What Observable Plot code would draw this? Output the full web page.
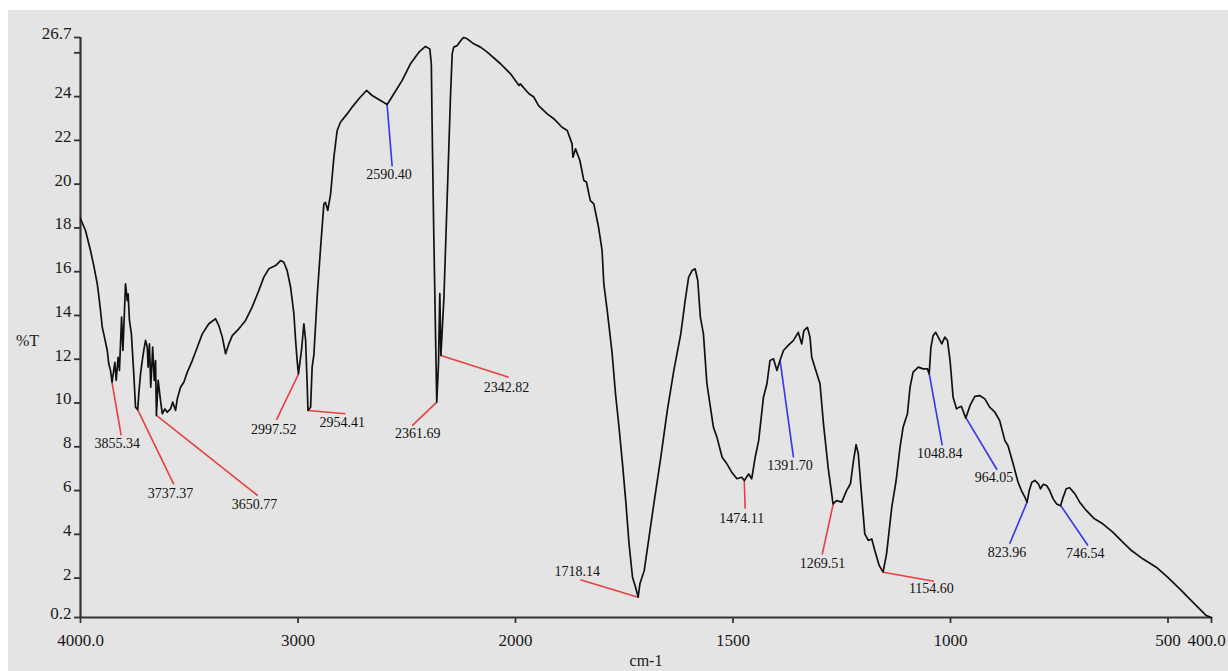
<!DOCTYPE html>
<html>
<head>
<meta charset="utf-8">
<script src="https://cdn.jsdelivr.net/npm/d3@7"></script>
<script src="https://cdn.jsdelivr.net/npm/@observablehq/plot@0.6"></script>
<style>
  html, body { margin: 0; padding: 0; background: #ffffff; width: 1228px; height: 671px; overflow: hidden; }
  #chart { position: absolute; left: 8px; top: 10px; width: 1220px; height: 661px; background: #e4e4e4; }
</style>
</head>
<body>
<div id="chart"></div>
<script>
// Spectrum: wavenumber (cm-1) and transmittance (%T)
const wavenumber = [4000,3977,3954,3939,3923,3916,3908,3900,3893,3877,3870,3862,3855,3842,3836,3827,3821,3811,3805,3793,3785,3781,3775,3766,3755,3747,3737,3732,3724,3716,3709,3701,3693,3689,3683,3677,3668,3661,3655,3651,3643,3632,3624,3612,3601,3586,3576,3563,3555,3540,3525,3509,3486,3463,3440,3410,3379,3364,3348,3333,3318,3302,3272,3241,3211,3180,3157,3134,3103,3080,3065,3050,3034,3019,3011,3004,2998,2984,2973,2965,2958,2954,2942,2935,2927,2912,2896,2881,2874,2863,2850,2835,2820,2805,2774,2751,2720,2685,2659,2621,2590,2559,2521,2483,2444,2414,2394,2387,2383,2376,2368,2362,2354,2348,2343,2329,2314,2299,2291,2284,2268,2245,2238,2222,2192,2161,2130,2069,2023,1992,1989,1969,1958,1947,1927,1912,1893,1881,1870,1868,1862,1852,1843,1837,1828,1820,1809,1801,1797,1789,1778,1770,1762,1754,1746,1739,1731,1724,1718,1714,1704,1693,1682,1666,1651,1636,1620,1610,1602,1594,1587,1581,1575,1568,1560,1545,1537,1525,1514,1503,1491,1480,1474,1464,1457,1449,1441,1430,1422,1415,1407,1399,1392,1384,1373,1361,1350,1342,1337,1329,1323,1319,1307,1300,1292,1281,1270,1262,1250,1239,1230,1223,1217,1212,1204,1197,1189,1181,1174,1164,1155,1147,1135,1125,1116,1109,1099,1093,1086,1074,1063,1053,1049,1045,1040,1034,1026,1020,1013,1007,1001,994,986,980,975,965,955,944,933,921,910,898,887,875,868,856,845,837,829,824,819,813,806,798,793,787,779,772,764,756,747,741,734,726,714,703,688,669,650,627,604,584,558,527,501,473,443,412,400];
const transmittance = [18.42,17.88,16.97,16.28,15.45,14.91,14.23,13.46,13.16,12.40,11.79,11.49,10.95,11.86,11.03,12.09,11.49,13.92,12.40,15.45,14.68,14.99,13.77,13.16,11.33,9.81,9.70,10.42,11.33,11.94,12.40,12.86,12.55,11.64,12.70,10.72,12.55,11.03,11.94,9.43,11.03,10.11,9.51,9.73,9.58,9.73,10.04,9.66,10.19,10.72,10.95,11.41,11.94,12.55,13.16,13.62,13.85,13.54,13.01,12.25,12.70,13.08,13.39,13.77,14.38,15.14,15.75,16.13,16.28,16.51,16.43,16.05,15.29,14.08,12.86,11.94,11.33,12.40,13.62,12.86,10.88,9.66,9.81,11.64,12.20,14.83,17.12,19.10,19.17,18.80,19.56,21.23,22.45,22.83,23.21,23.52,23.90,24.28,24.05,23.82,23.64,24.13,24.74,25.50,26.03,26.29,26.18,25.50,22.45,17.88,13.31,10.04,11.79,15.00,12.17,14.83,19.40,23.97,25.96,26.26,26.33,26.64,26.70,26.64,26.41,26.26,26.03,25.50,25.04,24.51,24.58,24.13,23.98,23.59,23.21,22.99,22.60,22.45,21.84,21.23,21.61,21.08,20.17,20.10,19.25,19.10,18.03,16.97,15.45,14.20,12.30,10.40,8.89,7.22,5.39,3.57,2.04,1.58,1.13,1.74,2.35,3.87,5.39,7.52,9.66,11.49,13.16,14.68,15.75,16.05,16.13,15.60,13.92,13.16,10.88,8.89,8.44,7.52,7.22,6.84,6.54,6.61,6.46,6.76,6.54,7.52,8.28,10.26,10.88,11.94,12.02,11.49,11.94,12.40,12.63,12.86,13.23,12.70,13.31,13.46,13.01,12.09,11.33,10.88,9.05,7.00,5.39,5.54,5.47,6.00,6.31,7.37,8.10,7.68,5.70,4.02,3.72,3.79,3.26,2.58,2.27,3.11,5.24,6.46,7.98,8.89,9.51,10.72,11.41,11.64,11.56,11.56,11.33,12.55,13.08,13.23,12.93,12.70,13.01,12.86,11.94,10.26,9.73,9.81,9.85,9.31,9.89,10.30,10.34,10.19,9.81,9.58,9.20,8.28,8.06,7.22,6.40,6.00,5.70,5.47,6.00,6.38,6.46,6.31,6.08,6.28,6.23,6.00,5.62,5.39,5.31,5.70,6.08,6.13,5.85,5.47,5.09,4.71,4.48,4.10,3.64,3.26,2.88,2.50,2.04,1.51,0.90,0.29,0.20];

// Peak annotations
const peakLabels = ["3855.34","3737.37","3650.77","2997.52","2954.41","2361.69","2342.82","2590.40","1718.14","1474.11","1391.70","1269.51","1154.60","1048.84","964.05","823.96","746.54"];
const peakT      = [10.95,9.70,9.43,11.33,9.66,10.04,12.17,23.64,1.13,6.46,11.94,5.39,2.27,11.33,9.31,5.47,5.31];
const leaderEndWn = [3813,3571,3185,3099,2782,2475,2031,2567,1851,1472,1361,1295,1038,1019,893,864,684];
const leaderEndT  = [8.52,6.28,5.77,9.23,9.51,8.97,11.18,20.81,1.92,5.17,7.52,3.08,1.86,8.06,6.95,3.57,3.49];
const labelWn = [3831,3586,3200,3111,2797,2450,2041,2582,1858,1480,1369,1294,1044,1025,900,870,690];
const labelT  = [8.15,5.88,5.36,8.80,9.12,8.61,10.72,20.44,2.31,4.74,7.14,2.67,1.51,7.68,6.58,3.18,3.11];
const peakColor = ["red","red","red","red","red","red","red","blue","red","red","blue","red","red","blue","blue","blue","blue"];

// Axes
const xTicks = [4000,3000,2000,1500,1000,500,400];
const xTickLabels = ["4000.0","3000","2000","1500","1000","500","400.0"];
const yTicks = [0.2,2,4,6,8,10,12,14,16,18,20,22,24,26,26.7];
const yTickLabels = ["0.2","2","4","6","8","10","12","14","16","18","20","22","24","","26.7"];

const spectrum = wavenumber.map((w, i) => ({wn: w, t: transmittance[i]}));
const colorMap = {red: "#e8403f", blue: "#3535ee"};
const peaks = peakLabels.map((l, i) => ({
  label: l, wn: parseFloat(l), t: peakT[i],
  ex: leaderEndWn[i], et: leaderEndT[i],
  tx: labelWn[i], tt: labelT[i],
  color: colorMap[peakColor[i]]
}));
const xLabelData = xTicks.map((v, i) => ({v, label: xTickLabels[i]}));

const font = "'Liberation Serif', 'Times New Roman', serif";
const axisColor = "#333333";
const xLabelStyle = {x: "v", text: "label", frameAnchor: "bottom", lineAnchor: "middle", textAnchor: "middle", dy: 23, fontSize: 17, fill: "#1a1a1a"};

const chart = Plot.plot({
  width: 1220,
  height: 661,
  marginLeft: 72,
  marginRight: 17,
  marginTop: 27,
  marginBottom: 54,
  style: {fontFamily: font, background: "transparent", color: "#111"},
  x: {type: "linear", domain: [4000, 2000, 400], range: [72, 507, 1203]},
  y: {domain: [0.2, 26.7], range: [607, 27]},
  color: {type: "identity"},
  marks: [
    Plot.axisX(xTicks, {tickSize: 6, tickFormat: () => "", stroke: axisColor, strokeWidth: 1.8, label: null}),
    Plot.axisY(yTicks, {tickSize: 6, tickFormat: () => "", stroke: axisColor, strokeWidth: 1.8, label: null}),
    Plot.text(xLabelData.filter(d => d.v !== 400), xLabelStyle),
    Plot.text(xLabelData.filter(d => d.v === 400), {...xLabelStyle, dx: -5}),
    Plot.text(yTicks, {y: d => d, text: (d, i) => yTickLabels[i], frameAnchor: "left", textAnchor: "end", lineAnchor: "middle", dx: -9, dy: -4, fontSize: 17, fill: "#1a1a1a"}),
    Plot.ruleY([0.2], {x1: 4000, x2: 400, stroke: axisColor, strokeWidth: 2.2}),
    Plot.ruleX([4000], {y1: 0.2, y2: 26.7, stroke: axisColor, strokeWidth: 2.2}),
    Plot.text(["%T"], {text: d => d, frameAnchor: "left", textAnchor: "middle", lineAnchor: "middle", dx: -53, dy: 13, fontSize: 16, fill: "#1a1a1a"}),
    Plot.text(["cm-1"], {text: d => d, frameAnchor: "bottom", textAnchor: "middle", lineAnchor: "middle", dy: 43, fontSize: 16, fill: "#1a1a1a"}),
    Plot.link(peaks, {x1: "wn", y1: "t", x2: "ex", y2: "et", stroke: "color", strokeWidth: 1.6}),
    Plot.line(spectrum, {x: "wn", y: "t", stroke: "#111111", strokeWidth: 1.7, strokeLinejoin: "round"}),
    Plot.text(peaks, {x: "tx", y: "tt", text: "label", fontSize: 14, fill: "#111"})
  ]
});
document.getElementById("chart").appendChild(chart);
</script>
</body>
</html>
